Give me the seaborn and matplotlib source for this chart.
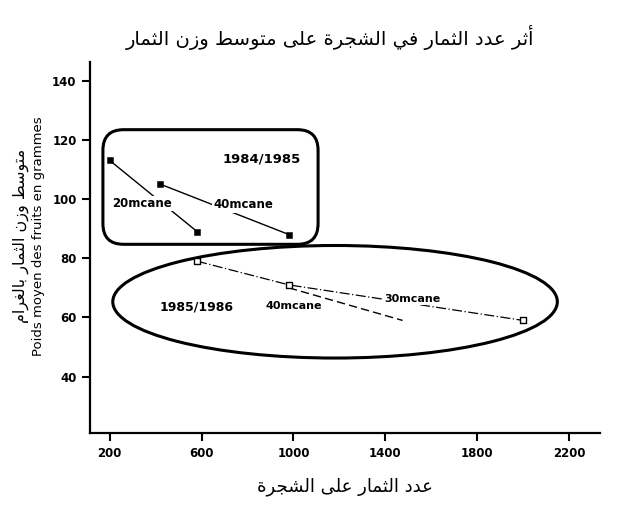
import numpy as np
import pandas as pd
import matplotlib
matplotlib.use("Agg")
import matplotlib.pyplot as plt
from matplotlib.patches import Ellipse, FancyBboxPatch
import seaborn as sns

# values
title = "أثر عدد الثمار في الشجرة على متوسط وزن الثمار"
xlabel_ar = "عدد الثمار على الشجرة"
ylabel_ar = "متوسط وزن الثمار بالغرام"
ylabel_fr = "Poids moyen des fruits en grammes"

x_ticks = [200, 600, 1000, 1400, 1800, 2200]
y_ticks = [40, 60, 80, 100, 120, 140]

# season 1984/1985 (filled squares, solid lines)
s84_20_x = [200, 580]
s84_20_y = [113, 89]
s84_40_x = [420, 980]
s84_40_y = [105, 88]

# season 1985/1986 (open squares, broken lines)
s85_30_x = [580, 980, 2000]
s85_30_y = [79, 71, 59]
s85_40_x = [980, 1475]
s85_40_y = [70, 59]


# matplotlib does no arabic shaping, so map letters to presentation forms
FORMS = {
    'آ': ('\uFE81', '\uFE82'), 'أ': ('\uFE83', '\uFE84'), 'ا': ('\uFE8D', '\uFE8E'),
    'ب': ('\uFE8F', '\uFE90', '\uFE91', '\uFE92'), 'ة': ('\uFE93', '\uFE94'),
    'ت': ('\uFE95', '\uFE96', '\uFE97', '\uFE98'), 'ث': ('\uFE99', '\uFE9A', '\uFE9B', '\uFE9C'),
    'ج': ('\uFE9D', '\uFE9E', '\uFE9F', '\uFEA0'), 'د': ('\uFEA9', '\uFEAA'),
    'ر': ('\uFEAD', '\uFEAE'), 'ز': ('\uFEAF', '\uFEB0'),
    'س': ('\uFEB1', '\uFEB2', '\uFEB3', '\uFEB4'), 'ش': ('\uFEB5', '\uFEB6', '\uFEB7', '\uFEB8'),
    'ط': ('\uFEC1', '\uFEC2', '\uFEC3', '\uFEC4'), 'ع': ('\uFEC9', '\uFECA', '\uFECB', '\uFECC'),
    'غ': ('\uFECD', '\uFECE', '\uFECF', '\uFED0'), 'ف': ('\uFED1', '\uFED2', '\uFED3', '\uFED4'),
    'ل': ('\uFEDD', '\uFEDE', '\uFEDF', '\uFEE0'), 'م': ('\uFEE1', '\uFEE2', '\uFEE3', '\uFEE4'),
    'ن': ('\uFEE5', '\uFEE6', '\uFEE7', '\uFEE8'), 'و': ('\uFEED', '\uFEEE'),
    'ى': ('\uFEEF', '\uFEF0'), 'ي': ('\uFEF1', '\uFEF2', '\uFEF3', '\uFEF4'),
}


def shape(text):
    out = []
    for i, ch in enumerate(text):
        f = FORMS.get(ch)
        if f is None:
            out.append(ch)
            continue
        prev = text[i - 1] if i > 0 else ''
        nxt = text[i + 1] if i < len(text) - 1 else ''
        join_prev = prev in FORMS and len(FORMS[prev]) == 4
        join_next = len(f) == 4 and nxt in FORMS
        if join_prev and join_next:
            out.append(f[3])
        elif join_prev:
            out.append(f[1])
        elif join_next:
            out.append(f[2])
        else:
            out.append(f[0])
    return ''.join(reversed(out))


sns.set_style("ticks")
plt.rcParams['font.family'] = ['DejaVu Sans']
plt.rcParams.update({"text.color": "black", "xtick.color": "black",
                     "ytick.color": "black", "axes.edgecolor": "black"})

fig = plt.figure(figsize=(6.37, 5.07), dpi=100)
ax = fig.add_axes([0.141, 0.146, 0.801, 0.732])

lbl_box = dict(facecolor="white", edgecolor="none", pad=1)

# 1984/1985
sns.lineplot(x=s84_20_x, y=s84_20_y, ax=ax, color="black", lw=1, sort=False)
sns.lineplot(x=s84_40_x, y=s84_40_y, ax=ax, color="black", lw=1, sort=False)
sns.scatterplot(x=s84_20_x + s84_40_x, y=s84_20_y + s84_40_y, ax=ax, marker="s",
                color="black", edgecolor="black", s=22, zorder=4)

# 1985/1986
sns.lineplot(x=s85_30_x, y=s85_30_y, ax=ax, color="black", lw=0.9, sort=False,
             linestyle=(0, (8, 2, 1, 2)))
sns.lineplot(x=s85_40_x, y=s85_40_y, ax=ax, color="black", lw=1, sort=False,
             linestyle=(0, (6, 3)))
sns.scatterplot(x=s85_30_x, y=s85_30_y, ax=ax, marker="s", facecolor="white",
                edgecolor="black", linewidth=1, s=22, zorder=4)

# enclosing shapes
box = FancyBboxPatch((170, 84.7), 937, 38.7, boxstyle="round,pad=0,rounding_size=90",
                     mutation_aspect=0.0775, fill=False, lw=2.2, ec="black", zorder=3)
ax.add_patch(box)
ax.add_patch(Ellipse((1181, 65.3), 1936, 38, fill=False, lw=2.2, ec="black", zorder=3))

ax.text(862, 113.4, "1984/1985", ha="center", va="center", fontsize=9.5, fontweight="bold")
ax.text(340, 98.5, "20mcane", ha="center", va="center", fontsize=8.5, fontweight="bold",
        bbox=lbl_box, zorder=5)
ax.text(780, 98, "40mcane", ha="center", va="center", fontsize=8.5, fontweight="bold",
        bbox=lbl_box, zorder=5)
ax.text(580, 63.4, "1985/1986", ha="center", va="center", fontsize=9, fontweight="bold")
ax.text(1000, 63.8, "40mcane", ha="center", va="center", fontsize=8, fontweight="bold",
        bbox=lbl_box, zorder=5)
ax.text(1520, 66.3, "30mcane", ha="center", va="center", fontsize=8, fontweight="bold",
        bbox=lbl_box, zorder=5)

ax.set_xlim(113, 2335)
ax.set_ylim(21, 146.3)
ax.set_xticks(x_ticks)
ax.set_yticks(y_ticks)
ax.set_xticklabels([str(v) for v in x_ticks], fontsize=8.5, fontweight="bold")
ax.set_yticklabels([str(v) for v in y_ticks], fontsize=8.5, fontweight="bold")
ax.tick_params(axis="both", direction="out", length=6, width=1.5, color="black")
ax.tick_params(axis="x", pad=4)
sns.despine(ax=ax)
for side in ["left", "bottom"]:
    ax.spines[side].set_linewidth(1.6)
ax.set_xlabel("")
ax.set_ylabel("")

fig.text(0.518, 0.927, shape(title), ha="center", va="center", fontsize=14)
fig.text(0.542, 0.04, shape(xlabel_ar), ha="center", va="center", fontsize=13)
fig.text(0.060, 0.535, ylabel_fr, rotation=90, ha="center", va="center", fontsize=9.5)
fig.text(0.033, 0.535, shape(ylabel_ar), rotation=90, ha="center", va="center", fontsize=11.5)

fig.savefig("out.png", dpi=100)
